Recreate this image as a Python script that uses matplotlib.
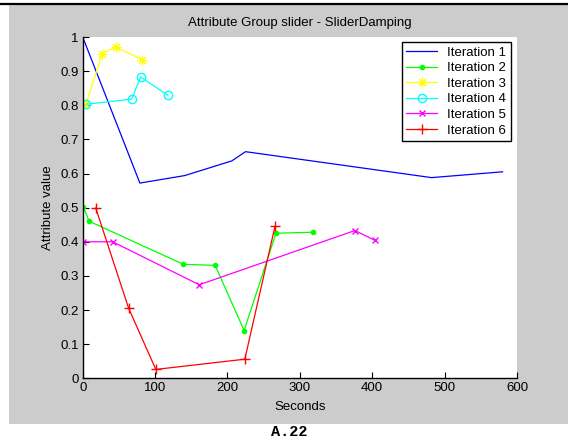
import matplotlib
matplotlib.use("Agg")
import matplotlib.pyplot as plt
from matplotlib.patches import Rectangle
from matplotlib.lines import Line2D

# Iteration data: time in seconds vs attribute value
it1_x = [0, 79, 141, 206, 225, 482, 580]
it1_y = [1.0, 0.572, 0.594, 0.637, 0.664, 0.588, 0.605]

it2_x = [1, 9, 139, 183, 223, 267, 318]
it2_y = [0.501, 0.460, 0.334, 0.331, 0.140, 0.425, 0.428]

it3_x = [4.5, 27, 45.6, 81.5]
it3_y = [0.803, 0.951, 0.971, 0.934]

it4_x = [5, 67.7, 80, 117.8]
it4_y = [0.803, 0.818, 0.883, 0.829]

it5_x = [1, 41.4, 161, 376, 404]
it5_y = [0.400, 0.400, 0.274, 0.433, 0.404]

it6_x = [18, 63.5, 101, 224, 265.6]
it6_y = [0.499, 0.205, 0.026, 0.056, 0.445]

labels = ["Iteration 1", "Iteration 2", "Iteration 3",
          "Iteration 4", "Iteration 5", "Iteration 6"]

xticks = [0, 100, 200, 300, 400, 500, 600]
yticks = [0, 0.1, 0.2, 0.3, 0.4, 0.5, 0.6, 0.7, 0.8, 0.9, 1]
ytick_labels = ["0", "0.1", "0.2", "0.3", "0.4", "0.5", "0.6",
                "0.7", "0.8", "0.9", "1"]

plt.rcParams['font.family'] = ['Liberation Sans', 'DejaVu Sans']

W, H = 568, 442
fig = plt.figure(figsize=(W / 100, H / 100), dpi=100)
fig.patch.set_facecolor("white")

# grey figure panel and top rule
fig.patches.append(Rectangle((9 / W, 1 - 424 / H), (W - 9) / W, (424 - 5) / H,
                             transform=fig.transFigure, facecolor="#cccccc",
                             edgecolor="none", zorder=-5))
fig.lines.append(Line2D([0, 1], [1 - 4.2 / H, 1 - 4.2 / H],
                        transform=fig.transFigure, color="black", lw=1.6,
                        zorder=-4))

ax = fig.add_axes([82.7 / W, 1 - 378.3 / H, (517 - 82.7) / W, (378.3 - 37) / H])
ax.set_zorder(1)
ax.set_facecolor("white")

lw = 0.9
ax.plot(it1_x, it1_y, color="#0000ff", lw=lw, label=labels[0])
ax.plot(it2_x, it2_y, color="#00ff00", lw=lw, marker=".", ms=6, label=labels[1])
ax.plot(it3_x, it3_y, color="#ffff00", lw=lw, marker=(8, 2, 0), ms=7,
        mew=0.8, label=labels[2])
ax.plot(it4_x, it4_y, color="#00ffff", lw=lw, marker="o", ms=6,
        mfc="none", mew=1.0, label=labels[3])
ax.plot(it5_x, it5_y, color="#ff00ff", lw=lw, marker="x", ms=4.5,
        mew=1.0, label=labels[4])
ax.plot(it6_x, it6_y, color="#ff0000", lw=lw, marker="+", ms=7,
        mew=1.0, label=labels[5])

ax.set_xlim(0, 600)
ax.set_ylim(0, 1)
ax.set_xticks(xticks)
ax.set_yticks(yticks)
ax.set_yticklabels(ytick_labels)
for s in ("top", "right"):
    ax.spines[s].set_visible(False)
for s in ("left", "bottom"):
    ax.spines[s].set_linewidth(1.0)
ax.tick_params(direction="in", length=4, width=0.8, labelsize=9.5,
               colors="black", pad=3)

ax.set_title("Attribute Group slider - SliderDamping", fontsize=9.5, pad=8)
ax.set_xlabel("Seconds", fontsize=9.5, labelpad=5)
ax.set_ylabel("Attribute value", fontsize=9.5, labelpad=4)

leg = ax.legend(loc="upper right", bbox_to_anchor=(511 / W, 1 - 42 / H),
                bbox_transform=fig.transFigure, fontsize=9.5, frameon=True,
                fancybox=False, edgecolor="black", framealpha=1,
                handlelength=2.3, handletextpad=0.8, labelspacing=0.25,
                borderpad=0.35, borderaxespad=0)
leg.get_frame().set_linewidth(1.0)

fig.text(289 / W, 1 - 432 / H, "A.22", ha="center", va="center",
         fontsize=11, fontweight="bold", family="Liberation Mono")

fig.savefig("out.png", dpi=100, facecolor="white")
